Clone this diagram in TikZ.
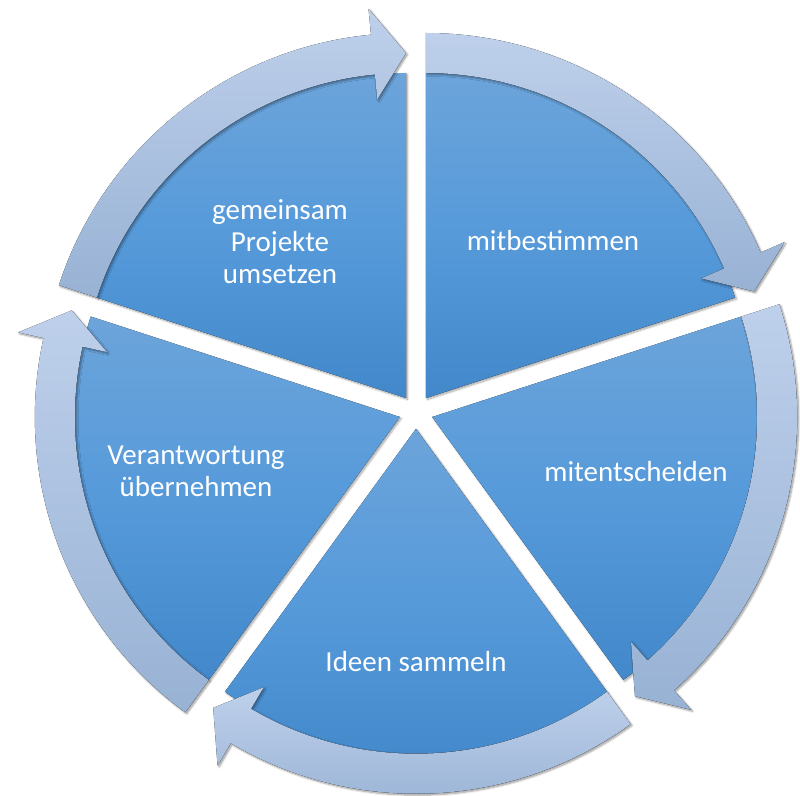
\documentclass[tikz,border=0pt]{standalone}
\usepackage{fontspec}
\setmainfont{Carlito}
\usetikzlibrary{shadows.blur}
\definecolor{wtop}{RGB}{108,164,218}
\definecolor{wmid}{RGB}{86,154,218}
\definecolor{wbot}{RGB}{66,136,202}
\definecolor{atop}{RGB}{190,208,235}
\definecolor{abot}{RGB}{152,178,212}
\tikzset{
  wedge/.style={top color=wtop, bottom color=wbot, middle color=wmid, draw=none,
    blur shadow={shadow xshift=1.5pt, shadow yshift=-1.5pt, shadow blur steps=6, shadow opacity=35}},
  arrowband/.style={top color=atop, bottom color=abot, draw=none,
    blur shadow={shadow xshift=1.5pt, shadow yshift=-1.5pt, shadow blur steps=6, shadow opacity=40}},
  txt/.style={text=white, font=\fontsize{29}{32}\selectfont, align=center}
}
\begin{document}
\begin{tikzpicture}[x=1pt,y=1pt]
\useasboundingbox (0,0) rectangle (800,-795);
\coordinate (C) at (416,-411.75);
% pie wedges
\foreach \b in {54,-18,-90,-162,-234} {
  \pgfmathsetmacro\s{\b+36}
  \pgfmathsetmacro\e{\b-36}
  \begin{scope}[shift={(C)},shift={(\b:17)}]
    \fill[wedge] (0,0) -- (\s:325) arc[start angle=\s, end angle=\e, radius=325] -- cycle;
  \end{scope}
}
% circular arrows
\foreach \b in {54,-18,-90,-162,-234} {
  \pgfmathsetmacro\s{\b+36}
  \pgfmathsetmacro\e{\b-36}
  \pgfmathsetmacro\h{\b-36+5.5}
  \begin{scope}[shift={(C)},shift={(\b:17)}]
    \fill[arrowband] (\s:365) arc[start angle=\s, end angle=\h, radius=365]
      -- (\h:391) -- (\e:345) -- (\h:300) -- (\h:325)
      arc[start angle=\h, end angle=\s, radius=325] -- cycle;
  \end{scope}
}
\node[txt] (t1) at (553,-241) {mitbestimmen};
\node[txt] (t2) at (636,-472) {mitentscheiden};
\node[txt] (t3) at (416,-662) {Ideen sammeln};
\node[txt] (t4) at (196,-471) {Verantwortung\\übernehmen};
\node[txt] (t5) at (280,-242) {gemeinsam\\Projekte\\umsetzen};
\end{tikzpicture}
\end{document}
